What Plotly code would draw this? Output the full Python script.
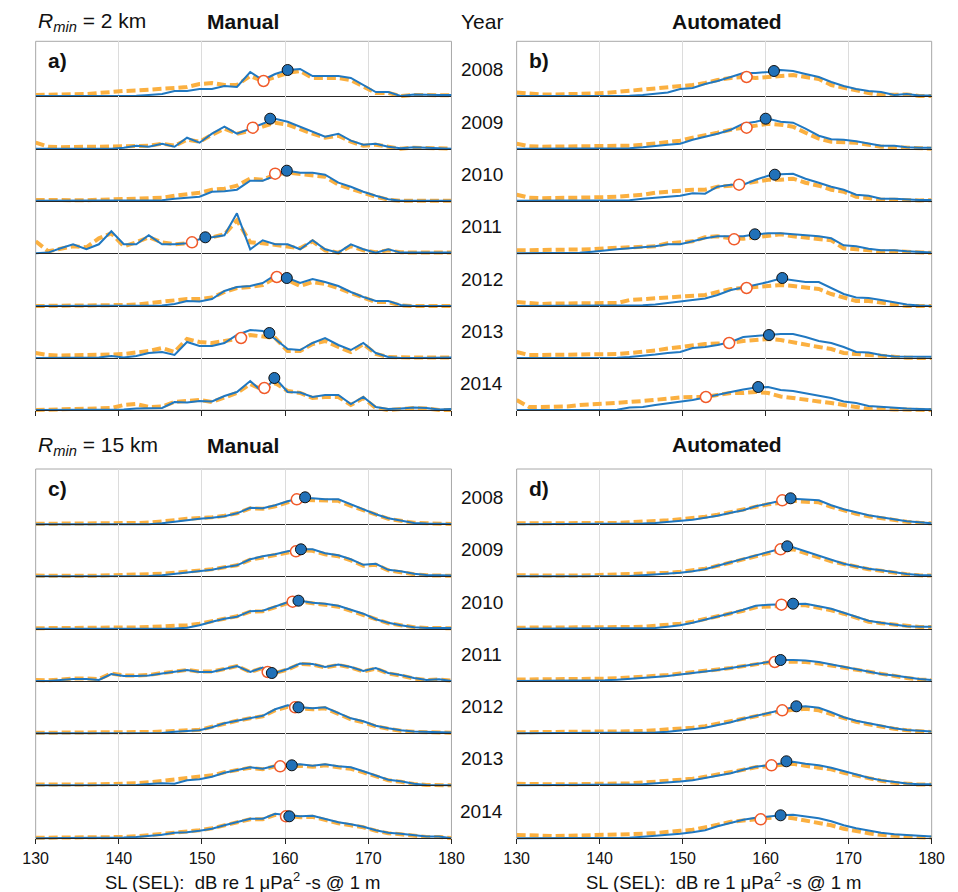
import plotly.graph_objects as go

# Source-level bins (dB re 1 uPa^2-s @ 1 m)
SL_BINS = [130.0, 131.5, 133.0, 134.5, 136.1, 137.6, 139.1, 140.6, 142.1, 143.6,
           145.2, 146.7, 148.2, 149.7, 151.2, 152.7, 154.2, 155.8, 157.3, 158.8,
           160.3, 161.8, 163.3, 164.8, 166.4, 167.9, 169.4, 170.9, 172.4, 173.9,
           175.5, 177.0, 178.5, 180.0]
YEARS = ["2008", "2009", "2010", "2011", "2012", "2013", "2014"]
TICKS = [130, 140, 150, 160, 170, 180]

# ---- a) Manual, Rmin = 2 km ----
manual_2km_solid = [
    [0, 0, 0, 0, 0, 0, 0.3, 0, 0.3, 1, 2, 5, 5, 7, 7, 10, 9, 24, 16, 22, 26, 27, 20, 20, 20, 18, 11, 4, 4, 0, 1.5, 1, 1, 1],
    [0, 0, 0, 0, 0, 0, 0, 1, 3, 2, 5, 2, 11, 6, 15, 22, 15, 20, 25, 30, 27, 22, 17, 12, 15, 8, 4, 5, 2, 0.5, 1.5, 1, 0.5, 0],
    [0, 0, 0, 0, 0, 0, 0, 0, 0, 0, 0.5, 2, 3, 4, 9, 9.5, 11, 20, 20, 25, 30, 28, 28, 26, 18, 14, 9, 5, 1.5, 0, 0, 0, 0, 0],
    [0, 0.7, 5, 9, 4, 9, 22, 9, 9, 18, 9, 9, 10, 14, 16, 18, 40, 4, 13, 9, 9, 4, 13, 4, 0.7, 9, 4, 0.7, 4, 0.7, 0.7, 0.7, 0.7, 0.7],
    [0, 0, 0, 0, 0, 0, 0, 0, 0, 0, 0.5, 2, 5, 4.5, 7, 15, 19, 20, 23, 31, 28, 23, 27, 24, 20, 14, 9, 5, 5, 1, 0, 0, 0, 0],
    [0, 0, 0, 0, 0, 0.5, 2, 0.5, 2, 5, 6, 3, 16, 12, 12, 15, 23, 28, 27, 19, 9, 8, 15, 20, 13, 8, 15, 5, 1, 0, 0, 0.3, 0.5, 0.5],
    [0, 0, 0, 0, 0, 0.5, 0.5, 0.5, 1.5, 2, 2, 8, 7.5, 9, 8.5, 14, 18, 29, 18, 32, 18, 17.5, 13, 15, 15, 6, 13, 3, 1, 1.5, 2.5, 2, 0.5, 1],
]
manual_2km_dashed = [
    [1, 1, 1, 1.5, 2, 3, 4.5, 5, 5.5, 6, 7, 8, 9, 12, 13, 11, 11, 20, 15, 19, 23, 25, 18, 18, 18, 16, 9, 3, 3, 0, 1, 0.7, 0.7, 0.7],
    [6, 2, 1.5, 2, 2, 2, 2, 2.5, 3, 3, 5, 3, 9, 7, 14, 20, 15, 18, 22, 26, 24, 19, 15, 11, 13, 7, 3, 4, 1.5, 0, 1, 0.5, 0, 0],
    [0.7, 0.5, 0.5, 0.5, 0.5, 1, 1, 1.5, 2, 2.5, 3, 5, 6, 8, 11, 12, 15, 22, 21, 26, 28, 27, 26, 24, 16, 12, 7, 4, 1, 0, 0, 0, 0, 0],
    [12, 2, 4.5, 7, 6, 15, 20, 7, 11, 16, 11, 9, 10, 13, 16, 19, 33, 11, 10, 8, 7, 5, 12, 3, 0.7, 7, 3, 1, 3, 1, 0.7, 0.7, 0.7, 0.7],
    [0, 0, 0, 0.3, 0.5, 0.7, 1, 1, 1.5, 3, 4, 6, 7, 7, 8.5, 14, 18, 19, 21, 28, 26, 20, 24, 22, 18, 13, 8, 4, 4, 0.5, 0, 0, 0, 0],
    [5, 3, 2.5, 2.5, 3, 3, 3.5, 4, 5, 7, 10, 6, 19, 16, 15, 17, 19, 23, 22, 20, 7, 7, 14, 17, 11, 6, 14, 4, 1, 0.5, 0.5, 0.5, 0.5, 0.5],
    [0, 0.3, 0.5, 0.7, 1, 1.5, 2, 5, 6, 3, 3.5, 8, 9, 10, 8, 13, 17, 26, 20, 27, 19, 17, 12, 13, 13, 5, 12, 2, 0, 1, 2, 1.5, 0, 0],
]
manual_2km_solid_mean_sl = [160.3, 158.2, 160.2, 150.4, 160.2, 158.1, 158.7]
manual_2km_solid_mean_y = [26, 30, 30, 16, 28, 25, 32]
manual_2km_dashed_mean_sl = [157.4, 156.1, 158.8, 148.8, 159.0, 154.7, 157.5]
manual_2km_dashed_mean_y = [15, 21, 27, 11, 29, 20, 22]

# ---- b) Automated, Rmin = 2 km ----
auto_2km_solid = [
    [0, 0, 0, 0, 0, 0, 0, 0, 0, 0.3, 1, 2, 3.5, 7, 8, 12, 15, 19, 23, 23, 24, 26, 25, 22, 19, 14, 10, 7, 5, 4, 1, 2, 0.5, 0.5],
    [0, 0, 0, 0, 0, 0, 0, 0, 0.2, 0.5, 1.5, 3, 4, 5, 9, 12, 15, 19, 25, 27, 30, 27, 26, 20, 13, 9.5, 9, 7.5, 5, 3, 3, 1.5, 1, 1],
    [0, 0, 0, 0, 0, 0, 0, 0, 0, 0.5, 2, 3, 4.5, 5, 7.5, 7, 14, 16, 16, 21, 25, 26.5, 27, 22, 18, 14, 11, 6, 5, 2, 2, 1, 0.7, 0.7],
    [0, 0, 0, 0, 0, 0.5, 1.5, 3, 4, 5, 6, 7, 9, 9, 12, 15, 17, 17, 17, 19, 20, 20, 19, 18, 17, 15, 8, 7, 4.5, 3, 3, 2, 1, 0.7],
    [0, 0, 0, 0, 0, 0, 0, 0, 0, 0.3, 0.7, 1.5, 3, 5, 6, 7.5, 11, 16, 18.5, 21, 24, 27.5, 26, 24, 24, 18, 12, 8.5, 8, 6, 4, 1.5, 0.5, 0],
    [0, 0, 0, 0, 0, 0, 0, 0, 0.3, 1, 2, 3.5, 5, 6, 10, 11, 13, 16, 21, 22, 23, 24, 24, 21, 17, 15, 11, 6, 5.5, 3, 1.5, 1.3, 1.3, 1.3],
    [0, 0, 0, 0, 0, 0, 0, 0, 0.3, 2.5, 3, 5, 6.5, 8, 10, 12.5, 15.5, 18, 20.5, 22.5, 23, 20, 19, 16.5, 14.5, 12, 8.5, 7, 4, 3, 2.5, 1.5, 1, 0.7],
]
auto_2km_dashed = [
    [3.5, 2, 1.5, 1.5, 1.5, 2, 2.5, 3, 4, 5, 6, 8, 9, 10, 11, 13, 16, 18, 19, 18, 19, 21, 21, 19, 17, 11, 8, 5, 3, 1, 1, 1.5, 0, 0],
    [5, 2.5, 2, 2, 2, 2, 2.3, 2.5, 3, 3, 4, 5, 6, 8, 11, 14, 16, 19, 21, 24, 25, 24, 22, 16, 10, 7, 7, 6, 4, 2, 1.5, 0.7, 0, 0],
    [6, 3, 2.5, 2.5, 3, 3, 3, 3.5, 4, 4.5, 6, 8, 9, 11, 11, 11, 14, 15, 17, 19, 21, 21, 22, 18, 15, 11, 9, 4, 3, 1, 1, 0.3, 0.3, 0.5],
    [3, 3, 3, 3, 3, 3.5, 4, 5, 5.5, 6.5, 7, 7, 10, 11, 12, 16, 17, 15, 14.5, 16, 18, 19, 17, 16, 15, 13, 5, 4, 3, 2, 2, 1.5, 1, 0.5],
    [4, 2.5, 2, 2.5, 2.5, 3, 3, 3, 3, 6, 7, 8, 9, 10, 10, 11, 14, 17, 18, 19, 20, 21, 20, 19, 17, 12, 8, 5, 5, 3, 1.5, 0, 0, 0],
    [6, 3, 3, 3, 3, 3, 3.5, 4, 4, 5, 6, 7.5, 9.5, 11, 13, 14, 14.5, 15, 17, 18, 19, 18, 15.5, 14, 11, 9, 5, 4, 3, 1.5, 0.5, 0.3, 0, 0],
    [10, 3, 3, 3, 3.5, 5, 6, 7, 7.5, 8, 9, 10.5, 11.5, 12.5, 13, 13, 15, 17, 17, 18, 17, 13.5, 12, 10, 8.5, 7, 4.5, 3, 1, 1.5, 0.5, 0, 0, 0],
]
auto_2km_solid_mean_sl = [161.0, 160.0, 161.1, 158.7, 162.0, 160.4, 159.1]
auto_2km_solid_mean_y = [25, 30, 26, 19, 28, 23, 23]
auto_2km_dashed_mean_sl = [157.7, 157.7, 156.8, 156.2, 157.7, 155.6, 152.8]
auto_2km_dashed_mean_y = [19, 21, 16, 14, 18, 15, 13]

# ---- c) Manual, Rmin = 15 km ----
manual_15km_solid = [
    [0, 0, 0, 0, 0, 0, 0, 0, 0, 0, 1, 2.5, 4.5, 5.5, 6.5, 8, 11, 16.5, 16, 19, 23, 26, 26, 25, 25, 20, 15, 10, 6, 4, 1.3, 0.7, 0.3, 0.3],
    [0, 0, 0, 0, 0, 0, 0, 0, 0, 0.3, 1, 2.5, 4, 5, 6.5, 9, 11, 17, 20, 22, 25, 27, 27, 23, 21, 17, 11.5, 12.5, 6.5, 5, 2.5, 1.3, 1, 0.7],
    [0, 0, 0, 0, 0, 0, 0, 0, 0, 0, 0, 0.3, 1, 3.5, 7, 10, 12, 17.5, 18, 22, 26.5, 28, 26, 25, 23, 19, 15, 9.5, 6, 3.5, 1.5, 0.7, 0.7, 0.7],
    [0, 0, 1, 2, 2, 1, 7, 5, 5, 5.5, 7.5, 9, 11, 9, 9, 12, 15, 9, 13.5, 8, 12, 17.5, 17, 14, 16.5, 14, 10, 13, 8, 6, 3, 1, 1.7, 0],
    [0, 0, 0, 0, 0, 0, 0, 0, 0, 0, 0.3, 1.5, 2.3, 3, 6, 10, 12.5, 15, 17.5, 24, 28, 26, 25, 26, 20, 15, 12, 7.5, 5, 3, 1.7, 1.3, 1, 0.7],
    [0, 0, 0, 0, 0, 0, 0, 0, 0.3, 1.3, 2, 1.5, 5, 6, 8.5, 12.5, 15.5, 18, 16.5, 19.5, 20.5, 21, 19.5, 21, 19, 18, 14, 9.5, 5.5, 4, 1.5, 0.3, 0, 0],
    [0, 0, 0, 0, 0, 0, 0.3, 0.7, 1.3, 2.3, 3.5, 5.5, 6, 7.5, 9.5, 13, 16.5, 19.5, 19.5, 24.5, 23, 22, 22.5, 19, 16, 14, 11.5, 8, 5.5, 4.5, 3, 1.7, 1.7, 0],
]
manual_15km_dashed = [
    [0.5, 0.5, 0.5, 0.5, 0.5, 0.7, 0.7, 1, 1.3, 1.7, 2.5, 4, 5.5, 6, 7, 8.5, 11, 16, 15.5, 18, 22, 24.5, 24.5, 24, 23.5, 18.5, 14, 9, 5.5, 3.5, 1.5, 1, 0.5, 0.3],
    [0.7, 0.5, 0.5, 0.5, 0.5, 0.7, 1, 1, 1.3, 1.7, 2.5, 3.5, 4.5, 5.5, 7, 9, 11, 16.5, 19, 21, 24, 26, 25.5, 22, 20, 16, 10.5, 11.5, 6, 4, 2, 1, 0.7, 0.5],
    [0.5, 0.5, 0.5, 0.5, 0.5, 0.5, 0.7, 1, 1.3, 1.7, 2, 2.5, 3.5, 5, 8, 10, 12.5, 17, 17.5, 21, 25.5, 27, 25, 24, 22, 18, 14, 9, 5.5, 3.5, 1.5, 0.7, 0.5, 0.5],
    [1, 0.7, 1.5, 2.5, 2.5, 2, 7.5, 5.5, 5.5, 6, 8, 9.5, 11, 9.5, 9.5, 12, 15, 9, 13, 8, 11.5, 17, 16.5, 13.5, 16, 13.5, 9.5, 12.5, 7.5, 5.5, 2.5, 1, 1.5, 0.3],
    [0.5, 0.5, 0.5, 0.5, 0.5, 0.5, 0.7, 0.7, 1, 1.3, 1.7, 2.5, 3, 3.5, 6.5, 10, 12.5, 15, 17, 23, 26.5, 25, 24, 25, 19, 14, 11, 7, 4.5, 2.5, 1.5, 1, 0.7, 0.5],
    [0.7, 0.5, 0.5, 0.5, 0.7, 1, 1.3, 1.3, 2, 3, 4.5, 6, 8, 8.5, 10, 13, 15.5, 17.5, 16, 19, 19, 19.5, 18.5, 20, 18, 16.5, 13, 8.5, 5, 3.5, 1.3, 0.3, 0, 0],
    [0.5, 0.5, 0.5, 0.7, 0.7, 1, 1, 1.3, 2, 3, 4, 6, 6.5, 8, 10, 13, 16, 19, 19, 23.5, 22.5, 21, 21.5, 18, 15, 13, 11, 7.5, 5, 4, 2.5, 1.3, 1.3, 0.3],
]
manual_15km_solid_mean_sl = [162.4, 161.9, 161.6, 158.4, 161.6, 160.8, 160.5]
manual_15km_solid_mean_y = [27, 27, 28, 8, 26, 20, 22]
manual_15km_dashed_mean_sl = [161.4, 161.3, 160.9, 157.9, 161.2, 159.4, 160.1]
manual_15km_dashed_mean_y = [25, 25, 27, 9, 26, 19, 22]

# ---- d) Automated, Rmin = 15 km ----
auto_15km_solid = [
    [0, 0, 0, 0, 0, 0, 0, 0, 0, 0.3, 0.7, 1.3, 2.5, 3.5, 4.5, 6.5, 8.5, 11.5, 14, 18, 21, 23.5, 25.5, 24.5, 24, 19, 15, 12, 9, 7, 5, 3, 2, 1],
    [0, 0, 0, 0, 0, 0, 0, 0, 0, 0.3, 1, 1.7, 2.5, 3.5, 5, 7, 10.5, 14, 18, 21, 24, 27.5, 29, 25, 20, 16, 12.5, 10, 7.5, 6, 4, 2.3, 1.3, 1],
    [0, 0, 0, 0, 0, 0, 0, 0, 0, 0, 0.3, 0.7, 2, 3.5, 6, 9, 12.5, 15.5, 19, 23, 24, 24.5, 25, 25, 22.5, 20, 16, 12, 8, 6, 4.5, 2.5, 2, 2],
    [0, 0, 0, 0, 0, 0, 0.3, 0.7, 1.3, 2, 3, 4, 5, 6.5, 7.5, 9.5, 11, 13, 15, 17, 19, 21, 21, 20.5, 19, 16.5, 14, 12, 9.5, 7, 5.5, 3.5, 2, 1],
    [0, 0, 0, 0, 0, 0, 0, 0, 0, 0, 0.3, 0.7, 1.5, 2.5, 4, 5.5, 8, 11, 14.5, 17.5, 20.5, 23, 26, 27, 25.5, 21, 16, 12.5, 10, 7.5, 5, 3.3, 2.7, 1.7],
    [0, 0, 0, 0, 0, 0, 0, 0, 0.3, 0.7, 1, 1.7, 2.7, 3.7, 5, 7.5, 9.5, 12, 15.5, 18.5, 20, 22, 23.5, 21.5, 20, 17.5, 14, 10.5, 7.5, 5, 3, 1.7, 1, 1],
    [0, 0, 0, 0, 0, 0, 0, 0, 0, 0.5, 1.5, 2.3, 3.3, 4.5, 6, 8, 12, 15.5, 18.5, 20.5, 22, 23, 23.5, 22, 20, 17, 13, 10, 7.5, 5.5, 4, 3, 2.3, 1.7],
]
auto_15km_dashed = [
    [1, 1, 0.7, 0.7, 0.7, 0.7, 1, 1, 1.3, 2, 2.5, 3, 4, 5, 6, 7.5, 9.5, 12.5, 14.5, 18, 20, 21.5, 23.5, 22.5, 22, 17.5, 13.5, 10.5, 8, 6, 4, 2.5, 1.5, 1],
    [1, 0.7, 0.7, 0.7, 0.7, 0.7, 1, 1, 1.3, 1.7, 2.3, 2.7, 3.5, 4.5, 5.5, 7.5, 10.5, 13.5, 17, 20, 23, 26, 27, 23.5, 19, 15, 12, 9.5, 7, 5.5, 3.5, 2, 1, 0.7],
    [1, 1, 0.7, 0.7, 0.7, 0.7, 1, 1, 1.3, 1.7, 2, 2.7, 3.5, 5, 7, 9.5, 12.5, 15, 18, 21.5, 22.5, 23, 23.5, 23.5, 21, 18.5, 15, 11, 7, 5.5, 4, 2.5, 1.7, 1.7],
    [1.5, 1.5, 1.5, 1.5, 1.5, 1.7, 2, 2.3, 2.7, 3.3, 4, 5, 6, 7.5, 8.5, 10, 11.5, 13, 15, 17, 18.5, 19.5, 19.5, 19, 17.5, 15.5, 13, 11, 8.5, 6.5, 5, 3, 1.5, 1],
    [1, 1, 1, 1, 1, 1, 1.3, 1.3, 1.7, 2, 2.3, 3, 3.5, 4.5, 5.5, 7, 9.5, 12.5, 15, 17.5, 20, 22, 23.5, 24.5, 23, 19, 14.5, 11.5, 9, 6.5, 4.5, 3, 2, 1.3],
    [1.5, 1, 1, 1, 1, 1, 1.3, 1.5, 1.7, 2, 2.7, 3.5, 4.5, 5.5, 6.5, 8.5, 10.5, 13, 15.5, 18, 19, 20, 21.5, 19.5, 18, 16, 12.5, 9.5, 7, 4.5, 2.5, 1.3, 0.7, 0.7],
    [3.3, 2.7, 2.5, 2.3, 2.5, 2.7, 3, 3.3, 3.7, 4, 4.5, 5.3, 6, 7.5, 8.5, 10.5, 13.5, 16.5, 18, 19, 21, 21.5, 20, 18, 15.5, 13, 9.5, 7, 5, 3.5, 2.3, 1.5, 1, 0.7],
]
auto_15km_solid_mean_sl = [163.0, 162.6, 163.3, 161.8, 163.7, 162.5, 161.8]
auto_15km_solid_mean_y = [26, 30, 25, 21, 27, 24, 23]
auto_15km_dashed_mean_sl = [162.0, 161.8, 161.9, 161.1, 162.0, 160.7, 159.4]
auto_15km_dashed_mean_y = [24, 27, 24, 19, 23, 20, 19]

# ---- page geometry (pixels) ----
FIG_W, FIG_H = 958, 892
LEFT_X = (23.3, 450.7)
RIGHT_X = (517.7, 944.3)
UPPER_TOP = 41.3
UPPER_BASES = [96.0, 148.7, 200.7, 253.3, 306.0, 358.0, 410.0]
LOWER_TOP = 469.0
LOWER_BASES = [524.3, 576.3, 628.7, 681.0, 733.3, 785.3, 838.3]
PAD = 3.0   # room below each baseline so thick lines are not clipped
YEAR_X = 482.0

FONT = "Arial, 'Liberation Sans', Helvetica, sans-serif"
SOLID_C = "#2078c1"
DASH_C = "#fbb040"
OPEN_EDGE = "#f15a29"
DOT_FILL = "#2171b8"
GRID_C = "#dcdcdc"
FRAME_C = "#a8a8a8"
BASE_C = "#262626"
TEXT_C = "#111111"


def px_x(p):
    return p / FIG_W


def px_y(p):
    return 1 - p / FIG_H


panels = [
    dict(letter="a)", xs=LEFT_X, top=UPPER_TOP, bases=UPPER_BASES, labels=False,
         solid=manual_2km_solid, dashed=manual_2km_dashed,
         s_sl=manual_2km_solid_mean_sl, s_y=manual_2km_solid_mean_y,
         d_sl=manual_2km_dashed_mean_sl, d_y=manual_2km_dashed_mean_y),
    dict(letter="b)", xs=RIGHT_X, top=UPPER_TOP, bases=UPPER_BASES, labels=False,
         solid=auto_2km_solid, dashed=auto_2km_dashed,
         s_sl=auto_2km_solid_mean_sl, s_y=auto_2km_solid_mean_y,
         d_sl=auto_2km_dashed_mean_sl, d_y=auto_2km_dashed_mean_y),
    dict(letter="c)", xs=LEFT_X, top=LOWER_TOP, bases=LOWER_BASES, labels=True,
         solid=manual_15km_solid, dashed=manual_15km_dashed,
         s_sl=manual_15km_solid_mean_sl, s_y=manual_15km_solid_mean_y,
         d_sl=manual_15km_dashed_mean_sl, d_y=manual_15km_dashed_mean_y),
    dict(letter="d)", xs=RIGHT_X, top=LOWER_TOP, bases=LOWER_BASES, labels=True,
         solid=auto_15km_solid, dashed=auto_15km_dashed,
         s_sl=auto_15km_solid_mean_sl, s_y=auto_15km_solid_mean_y,
         d_sl=auto_15km_dashed_mean_sl, d_y=auto_15km_dashed_mean_y),
]

fig = go.Figure()
layout_axes = {}
shapes = []
annotations = []

for p, pan in enumerate(panels):
    x0, x1 = pan["xs"]
    bases = pan["bases"]
    for r in range(7):
        k = p * 7 + r + 1
        xa = "x" if k == 1 else f"x{k}"
        ya = "y" if k == 1 else f"y{k}"
        top_r = pan["top"] if r == 0 else bases[r - 1]
        base = bases[r]
        last = r == 6

        layout_axes["xaxis" if k == 1 else f"xaxis{k}"] = dict(
            domain=[px_x(x0), px_x(x1)], range=[130, 180], anchor="free",
            position=px_y(base), showline=True, linecolor=BASE_C, linewidth=1,
            showgrid=True, gridcolor=GRID_C, gridwidth=1, zeroline=False,
            tickmode="array", tickvals=TICKS, ticks="outside" if last else "",
            ticklen=5, tickcolor=BASE_C, showticklabels=last and pan["labels"],
            tickfont=dict(family=FONT, size=16, color=TEXT_C),
        )
        layout_axes["yaxis" if k == 1 else f"yaxis{k}"] = dict(
            domain=[px_y(base + PAD), px_y(top_r)], range=[-PAD, base - top_r],
            anchor=xa, visible=False, showgrid=False, zeroline=False,
        )

        fig.add_trace(go.Scatter(
            x=SL_BINS, y=pan["dashed"][r], xaxis=xa, yaxis=ya, mode="lines",
            line=dict(color=DASH_C, width=4, dash="9px,4px"),
            hoverinfo="skip", showlegend=False))
        fig.add_trace(go.Scatter(
            x=SL_BINS, y=pan["solid"][r], xaxis=xa, yaxis=ya, mode="lines",
            line=dict(color=SOLID_C, width=2), hoverinfo="skip", showlegend=False))
        fig.add_trace(go.Scatter(
            x=[pan["d_sl"][r]], y=[pan["d_y"][r]], xaxis=xa, yaxis=ya,
            mode="markers", cliponaxis=False,
            marker=dict(size=11, color="white", line=dict(color=OPEN_EDGE, width=1.5)),
            hoverinfo="skip", showlegend=False))
        fig.add_trace(go.Scatter(
            x=[pan["s_sl"][r]], y=[pan["s_y"][r]], xaxis=xa, yaxis=ya,
            mode="markers", cliponaxis=False,
            marker=dict(size=11, color=DOT_FILL, line=dict(color="#111111", width=1)),
            hoverinfo="skip", showlegend=False))

    # panel frame
    shapes.append(dict(type="rect", xref="paper", yref="paper",
                       x0=px_x(x0), x1=px_x(x1), y0=px_y(bases[-1]), y1=px_y(pan["top"]),
                       line=dict(color=FRAME_C, width=1), fillcolor="rgba(0,0,0,0)",
                       layer="below"))
    # panel letter, centred in the upper-left corner
    annotations.append(dict(text=f"<b>{pan['letter']}</b>", xref="paper", yref="paper",
                            x=px_x(x0 + 22.5), y=px_y(pan["top"] + 19), xanchor="center",
                            yanchor="middle", showarrow=False,
                            font=dict(family=FONT, size=21, color=TEXT_C)))

# year labels between the panels
for bases in (UPPER_BASES, LOWER_BASES):
    for r, yr in enumerate(YEARS):
        annotations.append(dict(text=yr, xref="paper", yref="paper",
                                x=px_x(YEAR_X), y=px_y(bases[r] - 26.5),
                                xanchor="center", yanchor="middle", showarrow=False,
                                font=dict(family=FONT, size=19, color=TEXT_C)))

# column / block headers
headers = [
    ("<i>R<sub>min</sub></i> = 2 km", 81.0, 21.5),
    ("<b>Manual</b>", 236.5, 21.5),
    ("Year", 482.5, 21.5),
    ("<b>Automated</b>", 734.0, 21.5),
    ("<i>R<sub>min</sub></i> = 15 km", 87.0, 445.5),
    ("<b>Manual</b>", 236.5, 445.5),
    ("<b>Automated</b>", 734.0, 445.0),
]
for text, hx, hy in headers:
    annotations.append(dict(text=text, xref="paper", yref="paper",
                            x=px_x(hx), y=px_y(hy), xanchor="center", yanchor="middle",
                            showarrow=False, font=dict(family=FONT, size=21, color=TEXT_C)))

x_title = "SL (SEL):&nbsp; dB re 1 μPa<sup>2</sup> -s @ 1 m"
for cx in (236.5, 731.0):
    annotations.append(dict(text=x_title, xref="paper", yref="paper",
                            x=px_x(cx), y=px_y(881.0), xanchor="center", yanchor="middle",
                            showarrow=False, font=dict(family=FONT, size=18.5, color=TEXT_C)))

fig.update_layout(
    width=FIG_W, height=FIG_H,
    margin=dict(l=0, r=0, t=0, b=0),
    paper_bgcolor="white", plot_bgcolor="rgba(0,0,0,0)",
    showlegend=False, shapes=shapes, annotations=annotations,
    font=dict(family=FONT),
    **layout_axes,
)

fig.write_html("out.html")
